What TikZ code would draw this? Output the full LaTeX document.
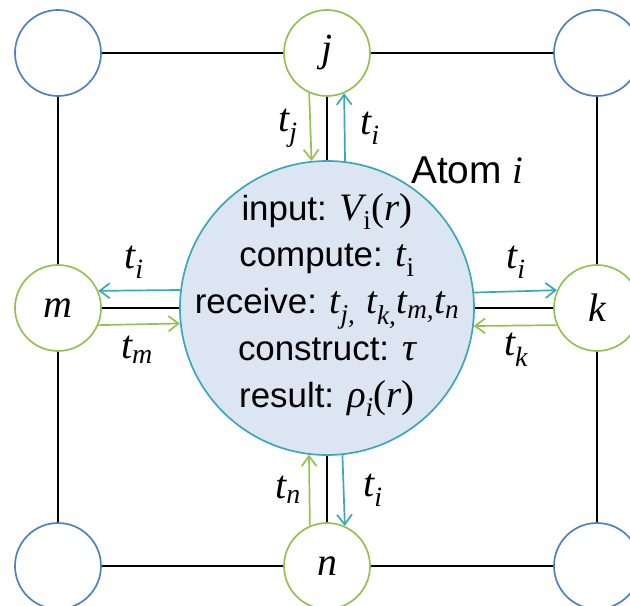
\documentclass[tikz,border=0pt]{standalone}
\usepackage{fontspec}
\setmainfont{Liberation Sans}
\newfontfamily\tmfont{Liberation Serif}
\usetikzlibrary{arrows.meta}
\definecolor{cblue}{RGB}{79,129,189}
\definecolor{cgreen}{RGB}{150,192,80}
\definecolor{cteal}{RGB}{60,168,182}
\definecolor{cfill}{RGB}{220,230,242}
\newcommand\mi[1]{{\tmfont\itshape #1}}
\newcommand\mv[2]{\mi{#1}\textsubscript{\tmfont\itshape #2}}
\newcommand\mr[2]{\mi{#1}\textsubscript{\tmfont #2}}
\newcommand\pr[1]{{\tmfont(}\mi{#1}{\tmfont)}}
\newcommand\bm[1]{{\fontsize{39}{47}\selectfont #1}}
\begin{document}
\begin{tikzpicture}[x=1bp,y=-1bp,
  cornernode/.style={circle, draw=cblue, line width=1.7bp, minimum size=86bp, inner sep=0pt, fill=white},
  nbnode/.style={circle, draw=cgreen, line width=1.7bp, minimum size=86bp, inner sep=0pt, fill=white, font=\fontsize{40}{44}\selectfont\tmfont\itshape},
  bignode/.style={circle, draw=cteal, line width=1.7bp, minimum size=294bp, inner sep=0pt, fill=cfill},
  grid/.style={black, line width=2bp},
  garrow/.style={cgreen, line width=1.7bp, -{Straight Barb[length=10bp,width=15bp]}},
  tarrow/.style={cteal, line width=1.7bp, -{Straight Barb[length=10bp,width=15bp]}},
  lbl/.style={font=\fontsize{40}{44}\selectfont, inner sep=0pt}]
\useasboundingbox (0,0) rectangle (630,606);
\node[cornernode] (tl) at (58,53) {};
\node[cornernode] (tr) at (597,53) {};
\node[cornernode] (bl) at (58,566) {};
\node[cornernode] (br) at (597,566) {};
\node[nbnode] (j) at (327,53) {j};
\node[nbnode] (m) at (58,308) {m};
\node[nbnode] (k) at (597,308) {k};
\node[nbnode] (n) at (327,566) {n};
\node[bignode] (big) at (327,308) {};
% grid lines
\draw[grid] (tl) -- (j) -- (tr);
\draw[grid] (bl) -- (n) -- (br);
\draw[grid] (tl) -- (m) -- (bl);
\draw[grid] (tr) -- (k) -- (br);
\draw[grid] (j) -- (big);
\draw[grid] (n) -- (big);
\draw[grid] (m) -- (big);
\draw[grid] (k) -- (big);
% arrows
\draw[garrow] (j.246.7) -- (big.96.64);
\draw[tarrow] (big.83.36) -- (j.293.3);
\draw[tarrow] (big.173.36) -- (m.23.3);
\draw[garrow] (m.-23.3) -- (big.186.64);
\draw[tarrow] (big.6.64) -- (k.156.7);
\draw[garrow] (k.203.3) -- (big.353.36);
\draw[garrow] (n.113.3) -- (big.263.36);
\draw[tarrow] (big.276.64) -- (n.66.7);
% labels
\node[lbl] (lj) at (288,128) {\mv{t}{j}};
\node[lbl] (li1) at (370,128) {\mv{t}{i}};
\node[lbl] (li2) at (134,262) {\mv{t}{i}};
\node[lbl] (lm) at (137,350) {\mv{t}{m}};
\node[lbl] (li3) at (516,262) {\mv{t}{i}};
\node[lbl] (lk) at (516,350) {\mv{t}{k}};
\node[lbl] (ln) at (288,490) {\mv{t}{n}};
\node[lbl] (li4) at (373,490) {\mv{t}{i}};
\node[font=\fontsize{39}{44}\selectfont, inner sep=0pt, anchor=west] (atom) at (411,170) {Atom \mi{i}};
\node[font=\fontsize{35}{47}\selectfont, align=center, inner sep=0pt] (txt) at (327,305)
 {input: \bm{\mr{V}{i}\pr{r}}\\
  compute: \bm{\mr{t}{i}}\\
  receive: \bm{\mv{t}{j,} \mv{t}{k,}\mv{t}{m,}\mv{t}{n}}\\
  construct: \bm{\mi{τ}}\\
  result: \bm{\mv{ρ}{i}\pr{r}}};
\end{tikzpicture}
\end{document}
